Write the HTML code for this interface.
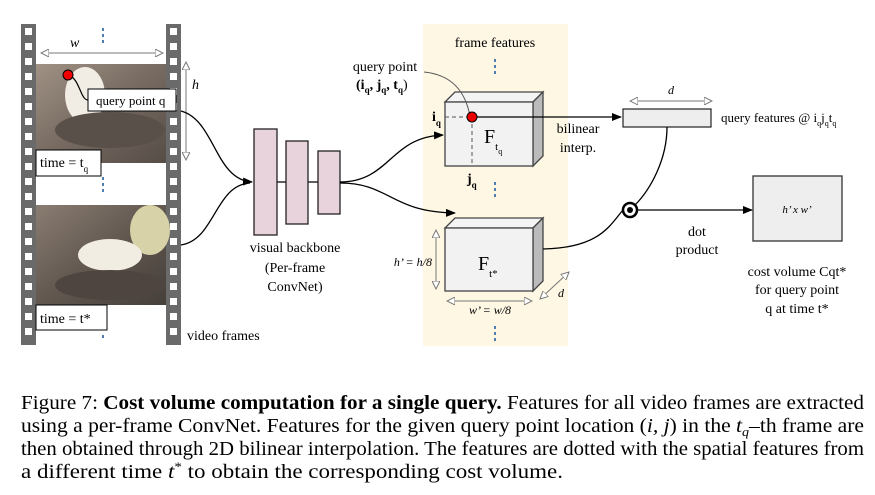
<!DOCTYPE html>
<html><head><meta charset="utf-8"><style>
html,body{margin:0;padding:0;background:#fff;}
svg{display:block;font-family:"Liberation Serif",serif;}
</style></head><body>
<svg width="875" height="495" viewBox="0 0 875 495" xmlns="http://www.w3.org/2000/svg">
<defs>
<marker id="ab" markerWidth="10" markerHeight="8" refX="9" refY="4" orient="auto" markerUnits="userSpaceOnUse"><path d="M0,0 L10,4 L0,8 z" fill="#000"/></marker>
<marker id="ag" markerWidth="9" markerHeight="8" refX="8" refY="4" orient="auto-start-reverse" markerUnits="userSpaceOnUse"><path d="M0,0 L8,4 L0,8 z" fill="#fff" stroke="#777" stroke-width="1"/></marker>
<linearGradient id="p1" x1="0" y1="0" x2="1" y2="1"><stop offset="0" stop-color="#a09284"/><stop offset="0.5" stop-color="#766a61"/><stop offset="1" stop-color="#564d47"/></linearGradient>
<linearGradient id="p2" x1="0" y1="0" x2="1" y2="1"><stop offset="0" stop-color="#8a7d72"/><stop offset="0.5" stop-color="#625850"/><stop offset="1" stop-color="#453f3a"/></linearGradient>
</defs>
<rect x="423" y="24" width="145" height="322" fill="#fdf7e4"/>
<rect x="21" y="24" width="15" height="321" fill="#6a6a6a"/>
<rect x="166" y="24" width="15" height="321" fill="#6a6a6a"/>
<g fill="#fff">
<rect x="25" y="28" width="7" height="7"/><rect x="25" y="43" width="7" height="7"/><rect x="25" y="58" width="7" height="7"/><rect x="25" y="73" width="7" height="7"/><rect x="25" y="88" width="7" height="7"/><rect x="25" y="103" width="7" height="7"/><rect x="25" y="118" width="7" height="7"/><rect x="25" y="133" width="7" height="7"/><rect x="25" y="148" width="7" height="7"/><rect x="25" y="163" width="7" height="7"/><rect x="25" y="178" width="7" height="7"/><rect x="25" y="193" width="7" height="7"/><rect x="25" y="208" width="7" height="7"/><rect x="25" y="223" width="7" height="7"/><rect x="25" y="238" width="7" height="7"/><rect x="25" y="253" width="7" height="7"/><rect x="25" y="268" width="7" height="7"/><rect x="25" y="283" width="7" height="7"/><rect x="25" y="298" width="7" height="7"/><rect x="25" y="313" width="7" height="7"/><rect x="25" y="328" width="7" height="7"/>
<rect x="170" y="28" width="7" height="7"/><rect x="170" y="43" width="7" height="7"/><rect x="170" y="58" width="7" height="7"/><rect x="170" y="73" width="7" height="7"/><rect x="170" y="88" width="7" height="7"/><rect x="170" y="103" width="7" height="7"/><rect x="170" y="118" width="7" height="7"/><rect x="170" y="133" width="7" height="7"/><rect x="170" y="148" width="7" height="7"/><rect x="170" y="163" width="7" height="7"/><rect x="170" y="178" width="7" height="7"/><rect x="170" y="193" width="7" height="7"/><rect x="170" y="208" width="7" height="7"/><rect x="170" y="223" width="7" height="7"/><rect x="170" y="238" width="7" height="7"/><rect x="170" y="253" width="7" height="7"/><rect x="170" y="268" width="7" height="7"/><rect x="170" y="283" width="7" height="7"/><rect x="170" y="298" width="7" height="7"/><rect x="170" y="313" width="7" height="7"/><rect x="170" y="328" width="7" height="7"/>
</g>
<rect x="36" y="64" width="130" height="99" fill="url(#p1)"/>
<ellipse cx="85" cy="95" rx="20" ry="28" fill="#f1ece4"/>
<ellipse cx="110" cy="130" rx="55" ry="18" fill="#5a504a"/>
<rect x="36" y="205" width="130" height="100" fill="url(#p2)"/>
<ellipse cx="150" cy="230" rx="20" ry="25" fill="#d8d2a8"/>
<ellipse cx="110" cy="255" rx="32" ry="16" fill="#f2ede2"/>
<ellipse cx="110" cy="285" rx="55" ry="15" fill="#4e4540"/>
<g fill="#4f7fb0"><rect x="102" y="28" width="2" height="3"/><rect x="102" y="34" width="2" height="3"/><rect x="102" y="40" width="2" height="3"/>
<rect x="102" y="177" width="2" height="3"/><rect x="102" y="183" width="2" height="3"/><rect x="102" y="189" width="2" height="3"/><rect x="102" y="335" width="2" height="3"/></g>
<line x1="41" y1="53" x2="163" y2="53" stroke="#777" marker-start="url(#ag)" marker-end="url(#ag)"/>
<text x="70" y="47" font-size="14" font-style="italic">w</text>
<line x1="186" y1="62" x2="186" y2="160" stroke="#777" marker-start="url(#ag)" marker-end="url(#ag)"/>
<text x="192" y="89" font-size="14" font-style="italic">h</text>
<path d="M68,75 C80,78 80,100 88,100" fill="none" stroke="#000" stroke-width="1.2"/>
<circle cx="68" cy="75" r="5" fill="#e00" stroke="#000"/>
<rect x="88" y="89" width="88" height="22" fill="#fff" stroke="#000"/>
<text x="96" y="105" font-size="13">query point q</text>
<rect x="36" y="150" width="65" height="26" fill="#fff" stroke="#000"/>
<text x="40" y="167" font-size="14">time = t<tspan font-size="9" dy="5">q</tspan></text>
<rect x="36" y="305" width="71" height="25" fill="#fff" stroke="#000"/>
<text x="40" y="323" font-size="14">time = t*</text>
<text x="187" y="340" font-size="14">video frames</text>
<path d="M181,111 C215,120 215,180 252,182" fill="none" stroke="#000" stroke-width="1.3" marker-end="url(#ab)"/>
<path d="M181,245 C215,240 215,185 250,183" fill="none" stroke="#000" stroke-width="1.3"/>
<line x1="277" y1="182" x2="318" y2="182" stroke="#000" stroke-width="1.2"/>
<rect x="254" y="129" width="23" height="106" fill="#e8d3dd" stroke="#222" stroke-width="1.3"/>
<rect x="286" y="141" width="22" height="83" fill="#e8d3dd" stroke="#222" stroke-width="1.3"/>
<rect x="318" y="151" width="22" height="63" fill="#e8d3dd" stroke="#222" stroke-width="1.3"/>
<g font-size="14" text-anchor="middle"><text x="295" y="252">visual backbone</text><text x="295" y="272">(Per-frame</text><text x="295" y="291">ConvNet)</text></g>
<path d="M340,182 C390,182 390,137 443,135" fill="none" stroke="#000" stroke-width="1.3" marker-end="url(#ab)"/>
<path d="M340,183 C390,183 390,212 455,213" fill="none" stroke="#000" stroke-width="1.3" marker-end="url(#ab)"/>
<text x="495" y="47" font-size="14" text-anchor="middle">frame features</text>
<g fill="#4f7fb0"><rect x="494" y="59" width="2" height="3"/><rect x="494" y="65" width="2" height="3"/><rect x="494" y="71" width="2" height="3"/>
<rect x="494" y="182" width="2" height="3"/><rect x="494" y="188" width="2" height="3"/><rect x="494" y="194" width="2" height="3"/>
<rect x="494" y="326" width="2" height="3"/><rect x="494" y="332" width="2" height="3"/><rect x="494" y="338" width="2" height="3"/></g>
<polygon points="445,102 455,92 543,92 533,102" fill="#f4f4f4" stroke="#444" stroke-width="1.3"/>
<polygon points="533,102 543,92 543,156 533,166" fill="#bbb" stroke="#444" stroke-width="1.3"/>
<rect x="445" y="102" width="88" height="64" fill="#f2f2f2" stroke="#444" stroke-width="1.3"/>
<line x1="445" y1="117" x2="472" y2="117" stroke="#555" stroke-dasharray="4,3"/>
<line x1="472" y1="117" x2="472" y2="166" stroke="#555" stroke-dasharray="4,3"/>
<path d="M424,72 C455,75 466,95 470,116" fill="none" stroke="#555"/>
<text x="385" y="71" font-size="14" text-anchor="middle">query point</text>
<text x="356" y="89" font-size="14" font-weight="bold">(i<tspan font-size="9" dy="4">q</tspan><tspan dy="-4">, j</tspan><tspan font-size="9" dy="4">q</tspan><tspan dy="-4">, t</tspan><tspan font-size="9" dy="4">q</tspan><tspan dy="-4" font-weight="normal">)</tspan></text>
<text x="432" y="121" font-size="14" font-weight="bold">i<tspan font-size="9" dy="5">q</tspan></text>
<text x="467" y="183" font-size="14" font-weight="bold">j<tspan font-size="9" dy="5">q</tspan></text>
<text x="484" y="143" font-size="20">F<tspan font-size="11" dy="7">t</tspan><tspan font-size="8" dy="4">q</tspan></text>
<line x1="472" y1="117" x2="621" y2="117" stroke="#000" stroke-width="1.3" marker-end="url(#ab)"/>
<circle cx="472" cy="117" r="5" fill="#e00" stroke="#000"/>
<text x="578" y="133" font-size="14" text-anchor="middle">bilinear</text>
<text x="578" y="152" font-size="14" text-anchor="middle">interp.</text>
<polygon points="445,228 455,218 543,218 533,228" fill="#f4f4f4" stroke="#444" stroke-width="1.3"/>
<polygon points="533,228 543,218 543,281 533,291" fill="#bbb" stroke="#444" stroke-width="1.3"/>
<rect x="445" y="228" width="88" height="63" fill="#f2f2f2" stroke="#444" stroke-width="1.3"/>
<text x="478" y="270" font-size="20">F<tspan font-size="11" dy="7">t*</tspan></text>
<line x1="436" y1="230" x2="436" y2="289" stroke="#777" marker-start="url(#ag)" marker-end="url(#ag)"/>
<text x="432" y="266" font-size="12" font-style="italic" text-anchor="end">h’ = h/8</text>
<line x1="447" y1="301" x2="532" y2="301" stroke="#777" marker-start="url(#ag)" marker-end="url(#ag)"/>
<text x="490" y="314" font-size="12" font-style="italic" text-anchor="middle">w’ = w/8</text>
<line x1="540" y1="299" x2="569" y2="272" stroke="#777" marker-start="url(#ag)" marker-end="url(#ag)"/>
<text x="558" y="297" font-size="12" font-style="italic">d</text>
<path d="M543,249 C600,248 610,225 623,210" fill="none" stroke="#000" stroke-width="1.3"/>
<line x1="630" y1="101" x2="712" y2="101" stroke="#777" marker-start="url(#ag)" marker-end="url(#ag)"/>
<text x="671" y="94" font-size="12" font-style="italic" text-anchor="middle">d</text>
<rect x="623" y="109" width="88" height="18" fill="#eee" stroke="#222" stroke-width="1.2"/>
<text x="721" y="122" font-size="13">query features @ i<tspan font-size="8" dy="4">q</tspan><tspan dy="-4">j</tspan><tspan font-size="8" dy="4">q</tspan><tspan dy="-4">t</tspan><tspan font-size="8" dy="4">q</tspan></text>
<path d="M667,127 C667,160 650,190 635,205" fill="none" stroke="#000" stroke-width="1.3"/>
<circle cx="630" cy="210" r="7" fill="#fff" stroke="#000" stroke-width="2.5"/>
<circle cx="630" cy="210" r="3" fill="#000"/>
<line x1="637" y1="210" x2="752" y2="210" stroke="#000" stroke-width="1.3" marker-end="url(#ab)"/>
<text x="697" y="236" font-size="14" text-anchor="middle">dot</text>
<text x="697" y="254" font-size="14" text-anchor="middle">product</text>
<rect x="753" y="176" width="89" height="65" fill="#eee" stroke="#333" stroke-width="1.3"/>
<text x="797" y="213" font-size="11" font-style="italic" text-anchor="middle">h’ x w’</text>
<g font-size="14" text-anchor="middle"><text x="797" y="276">cost volume Cqt*</text><text x="797" y="294">for query point</text><text x="797" y="313">q at time t*</text></g>
<g font-size="20">
<text x="21" y="409" textLength="843" lengthAdjust="spacingAndGlyphs">Figure 7: <tspan font-weight="bold">Cost volume computation for a single query.</tspan> Features for all video frames are extracted</text>
<text x="21" y="432" textLength="843" lengthAdjust="spacingAndGlyphs">using a per-frame ConvNet. Features for the given query point location (<tspan font-style="italic">i, j</tspan>) in the <tspan font-style="italic">t<tspan font-size="13" dy="4">q</tspan></tspan><tspan dy="-4">–th frame are</tspan></text>
<text x="21" y="455" textLength="843" lengthAdjust="spacingAndGlyphs">then obtained through 2D bilinear interpolation. The features are dotted with the spatial features from</text>
<text x="21" y="478" textLength="542" lengthAdjust="spacingAndGlyphs">a different time <tspan font-style="italic">t</tspan><tspan font-size="13" dy="-7">*</tspan><tspan dy="7"> to obtain the corresponding cost volume.</tspan></text>
</g>
</svg>
</body></html>
